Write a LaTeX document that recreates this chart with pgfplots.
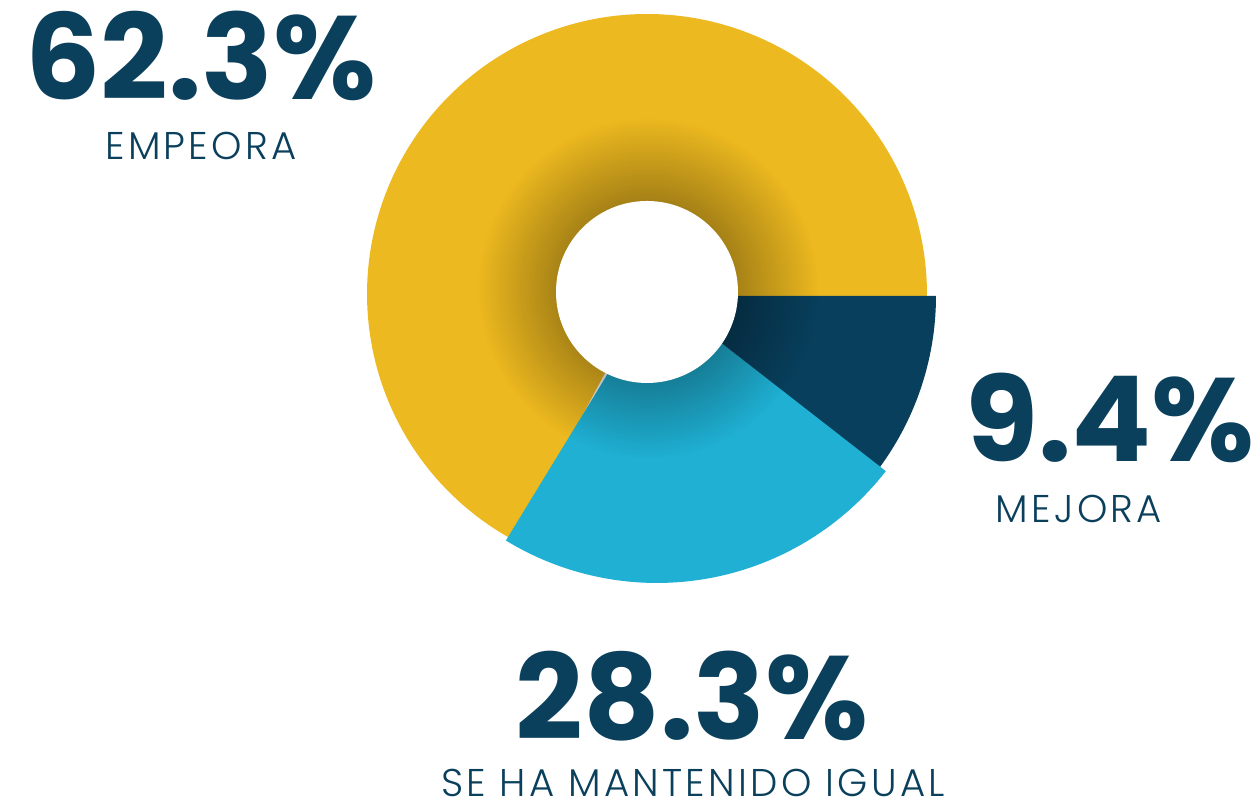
\documentclass[border=0pt]{standalone}
\usepackage{pgfplots}
\pgfplotsset{compat=1.18}
\usepackage{fontspec}
\setmainfont{Poppins}
\newfontfamily\numfont{Poppins Bold}
\newfontfamily\lightfont{Poppins Light}[LetterSpace=8.5]
\usetikzlibrary{fadings}
\tikzfading[name=myfade, inner color=transparent!0, outer color=transparent!100]
\definecolor{cyellow}{HTML}{EDB920}
\definecolor{cblue}{HTML}{1FB0D3}
\definecolor{cnavy}{HTML}{083F5C}
\definecolor{ctext}{HTML}{0B405C}
\begin{document}
\begin{tikzpicture}
\begin{axis}[name=ax, scale only axis, width=12.6cm, height=8.03cm,
  xmin=0, xmax=1260, ymin=0, ymax=803, hide axis, clip=false]
% EMPEORA 62.3% (yellow)
\addplot[fill=cyellow, draw=none, domain=-2:242, samples=150]
  ({647+280*cos(x)}, {509+280*sin(x)}) -- (axis cs:647,509) -- cycle;
% MEJORA 9.4% (navy)
\addplot[fill=cnavy, draw=none, domain=-38:0, samples=40]
  ({647+289*cos(x)}, {507+289*sin(x)}) -- (axis cs:647,507) -- cycle;
% SE HA MANTENIDO IGUAL 28.3% (blue)
\addplot[fill=cblue, draw=none, domain=-121.4:-37.9, samples=80]
  ({657+290*cos(x)}, {510+290*sin(x)}) -- (axis cs:657,510) -- cycle;
% inner shadow
\fill[black, opacity=0.62, path fading=myfade] (axis cs:648,515) circle[radius=1.7cm];
% hole
\fill[white] (axis cs:647,511) circle[radius=0.91cm];
% labels
\node[anchor=base, inner sep=0, text=ctext, font=\numfont\fontsize{33.7}{36}\selectfont] at (axis cs:201,703) {62.3\%};
\node[anchor=base, inner sep=0, text=ctext, font=\lightfont\fontsize{11}{13}\selectfont] at (axis cs:201,643) {EMPEORA};
\node[anchor=base, inner sep=0, text=ctext, font=\numfont\fontsize{33.7}{36}\selectfont] at (axis cs:1110,341) {9.4\%};
\node[anchor=base, inner sep=0, text=ctext, font=\lightfont\fontsize{11}{13}\selectfont] at (axis cs:1079,280) {MEJORA};
\node[anchor=base, inner sep=0, text=ctext, font=\numfont\fontsize{33.7}{36}\selectfont] at (axis cs:692,63) {28.3\%};
\node[anchor=base, inner sep=0, text=ctext, font=\lightfont\fontsize{11}{13}\selectfont] at (axis cs:693,6) {SE HA MANTENIDO IGUAL};
\end{axis}
\pgfresetboundingbox
\useasboundingbox (ax.south west) rectangle (ax.north east);
\end{tikzpicture}
\end{document}
